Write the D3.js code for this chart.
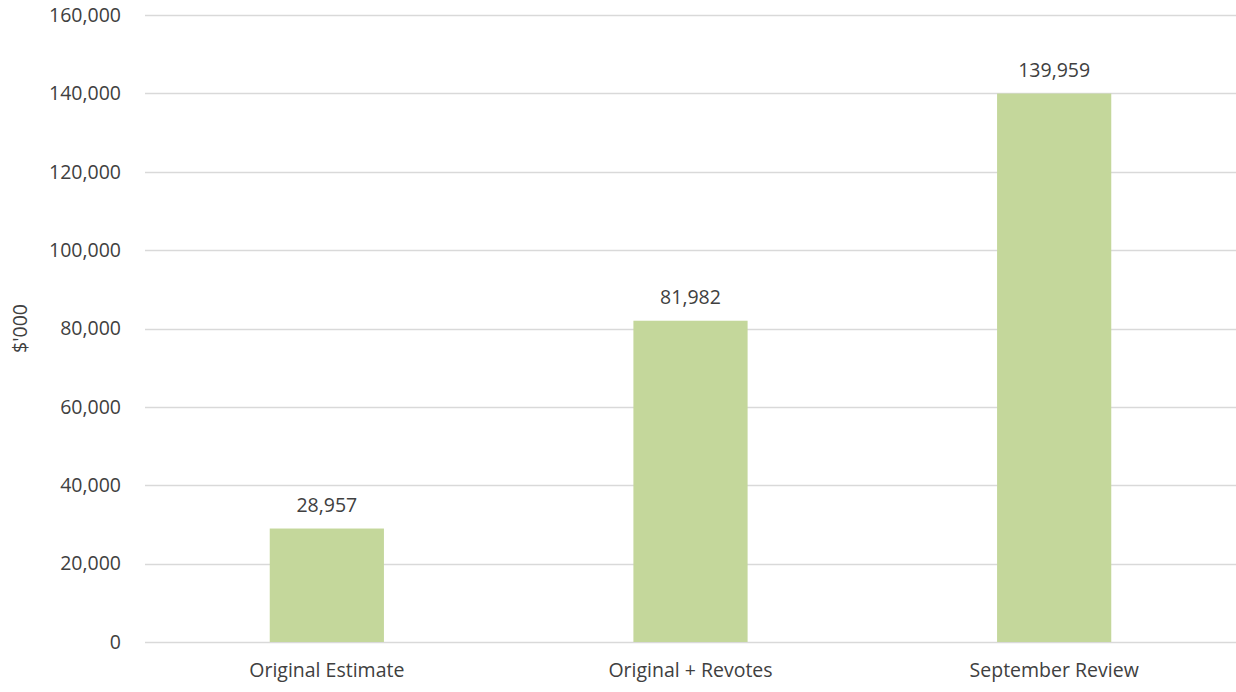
<!DOCTYPE html>
<html>
<head>
<meta charset="utf-8">
<script src="https://cdn.jsdelivr.net/npm/d3@7"></script>
<style>
  body { margin: 0; background: #fff; }
  svg text { font-family: "Open Sans", "Noto Sans", sans-serif; fill: #404040; }
</style>
</head>
<body>
<svg id="chart" width="1236" height="692"></svg>
<script>
// --- Données ---
const categories = ["Original Estimate", "Original + Revotes", "September Review"];
const values = [28957, 81982, 139959];
const yTicks = [0, 20000, 40000, 60000, 80000, 100000, 120000, 140000, 160000];

// --- Configuration ---
const svg = d3.select("#chart");
const margin = {top: 15, right: 0, bottom: 50, left: 145};
const width = 1236, height = 692;
const fontSize = 19.5;

const x = d3.scaleBand()
    .domain(categories)
    .range([margin.left, width - margin.right])
    .paddingInner(0.686)
    .paddingOuter(0.343);

const y = d3.scaleLinear()
    .domain([0, 160000])
    .range([height - margin.bottom, margin.top]);

const fmt = d3.format(",");

// Lignes de grille
svg.append("g")
    .selectAll("line")
    .data(yTicks)
    .join("line")
    .attr("x1", margin.left)
    .attr("x2", width - margin.right)
    .attr("y1", d => Math.round(y(d)) + 0.5)
    .attr("y2", d => Math.round(y(d)) + 0.5)
    .attr("stroke", "#d9d9d9")
    .attr("stroke-width", 1.3);

// Axe Y (étiquettes seulement)
const yAxis = svg.append("g")
    .attr("transform", `translate(${margin.left},0)`)
    .call(d3.axisLeft(y).tickValues(yTicks).tickFormat(fmt).tickSize(0).tickPadding(24));
yAxis.select(".domain").remove();
yAxis.selectAll("text").style("font-size", fontSize + "px").attr("font-family", null).attr("fill", null);

// Barres
svg.append("g")
    .selectAll("rect")
    .data(values)
    .join("rect")
    .attr("x", (d, i) => x(categories[i]))
    .attr("y", d => y(d))
    .attr("width", x.bandwidth())
    .attr("height", d => y(0) - y(d))
    .attr("fill", "#c4d79b");

// Étiquettes de valeurs
svg.append("g")
    .selectAll("text")
    .data(values)
    .join("text")
    .attr("x", (d, i) => x(categories[i]) + x.bandwidth() / 2)
    .attr("y", d => y(d) - 17)
    .attr("text-anchor", "middle")
    .style("font-size", fontSize + "px")
    .text(d => fmt(d));

// Axe X
const xAxis = svg.append("g")
    .attr("transform", `translate(0,${height - margin.bottom})`)
    .call(d3.axisBottom(x).tickSize(0).tickPadding(21));
xAxis.select(".domain").remove();
xAxis.selectAll("text").style("font-size", fontSize + "px").attr("font-family", null).attr("fill", null);

// Titre de l'axe Y
svg.append("text")
    .attr("transform", `translate(27,${(margin.top + height - margin.bottom) / 2}) rotate(-90)`)
    .attr("text-anchor", "middle")
    .style("font-size", fontSize + "px")
    .text("$'000");
</script>
</body>
</html>
